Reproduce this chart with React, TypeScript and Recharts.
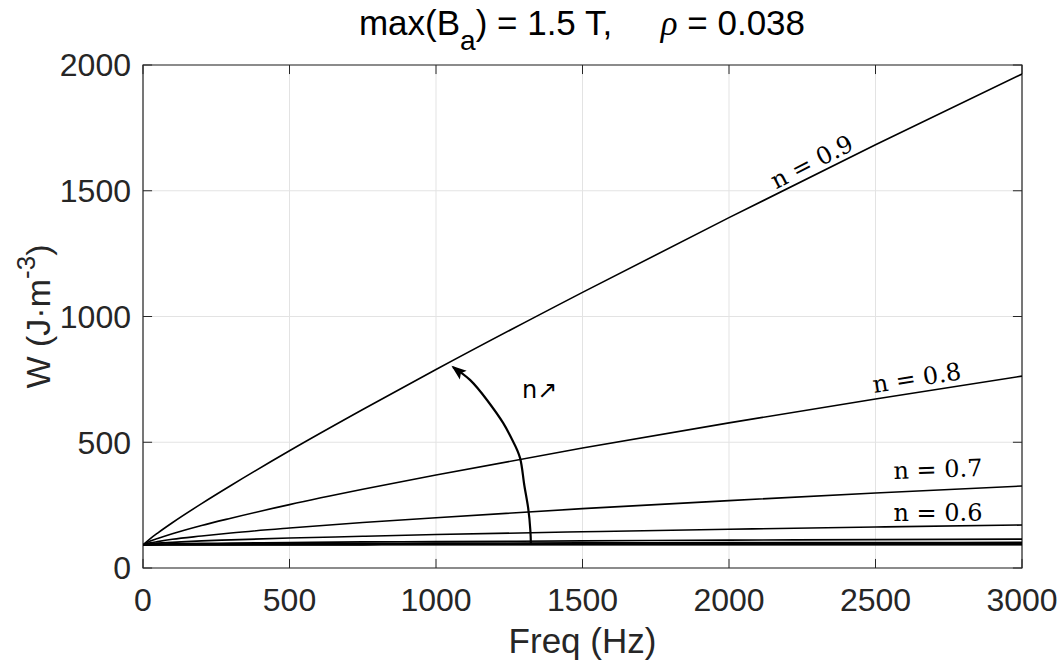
import { LineChart, Line, XAxis, YAxis, CartesianGrid, ReferenceArea, ReferenceLine, ReferenceDot } from 'recharts'

// frequency samples (Hz)
const freq = [0, 25, 50, 100, 200, 300, 500, 750, 1000, 1500, 2000, 2500, 3000]

// W (J/m^3) per exponent n
const n09 = [92, 117, 139, 180, 256, 328, 466, 630, 789, 1096, 1393, 1683, 1964]
const n08 = [92, 107, 117, 136, 169, 198, 252, 313, 370, 477, 577, 672, 763]
const n07 = [92, 100, 105, 114, 127, 139, 159, 181, 200, 236, 268, 298, 326]
const n06 = [92, 97, 99, 102, 108, 112, 119, 126, 133, 144, 154, 163, 171]
const n05 = [92, 94, 95, 96, 98, 99, 101, 104, 105, 108, 111, 113, 115]
const n04 = [92, 94, 94, 95, 95, 96, 97, 98, 99, 100, 101, 101, 102]
const n03 = [92, 93, 93, 94, 94, 94, 95, 95, 95, 96, 96, 97, 97]
const n02 = [92, 92, 93, 93, 93, 93, 93, 93, 94, 94, 94, 94, 94]
const n01 = [92, 92, 92, 92, 92, 92, 92, 92, 93, 93, 93, 93, 93]

const seriesKeys = ['n01', 'n02', 'n03', 'n04', 'n05', 'n06', 'n07', 'n08', 'n09']
const seriesVals = [n01, n02, n03, n04, n05, n06, n07, n08, n09]

// curved "n increases" arrow
const arcF = [1324, 1322, 1314, 1300, 1287, 1260, 1229, 1174, 1116, 1058]
const arcW = [92, 150, 243, 340, 437, 510, 577, 668, 748, 799]

const xTicks = [0, 500, 1000, 1500, 2000, 2500, 3000]
const yTicks = [0, 500, 1000, 1500, 2000]

// curve labels: text, position (data units), rotation
const curveLabels = [
  { text: 'n = 0.9', f: 2283, w: 1614, rot: -27 },
  { text: 'n = 0.8', f: 2641, w: 755, rot: -9 },
  { text: 'n = 0.7', f: 2713, w: 392, rot: -2 },
  { text: 'n = 0.6', f: 2713, w: 219, rot: 0 },
]

const data = freq.map((f, i) => {
  const row: Record<string, number> = { f }
  seriesKeys.forEach((k, j) => { row[k] = seriesVals[j][i] })
  return row
})
const arcData = arcF.map((f, i) => ({ f, w: arcW[i] }))

const axisColor = '#262626'
const sans = '"Liberation Sans", Arial, Helvetica, sans-serif'
const tickStyle = { fill: axisColor, fontSize: 32, fontFamily: sans }

function ArrowHead(props: any) {
  const { cx, cy, index } = props
  if (index !== arcData.length - 1) return <g key={index} />
  return (
    <g key={index} transform={`translate(${cx},${cy}) rotate(-142)`}>
      <path d="M2,0 L-13,-5.5 L-10,0 L-13,5.5 Z" fill="#000" />
    </g>
  )
}

function YLabel(props: any) {
  const { viewBox } = props
  const cx = 38
  const cy = viewBox.y + viewBox.height / 2
  return (
    <text x={cx} y={cy} transform={`rotate(-90, ${cx}, ${cy})`} textAnchor="middle" dominantBaseline="central"
      fill={axisColor} fontSize={34} fontFamily={sans}>
      W (J·m<tspan dy={-12} fontSize={26}>-3</tspan><tspan dy={12}>)</tspan>
    </text>
  )
}

function XLabel(props: any) {
  const { viewBox } = props
  const cx = viewBox.x + viewBox.width / 2
  return (
    <text x={cx} y={640} textAnchor="middle" dominantBaseline="central" fill={axisColor} fontSize={35} fontFamily={sans}>
      Freq (Hz)
    </text>
  )
}

export default function App() {
  return (
    <div style={{ position: 'absolute', left: 0, top: 0, width: 1064, height: 668, background: '#fff' }}>
      <div style={{ position: 'absolute', left: 0, top: 3, width: 1164, textAlign: 'center', fontFamily: sans, fontSize: 35, color: '#000', lineHeight: '40px', whiteSpace: 'pre' }}>
        max(B<sub style={{ fontSize: 28, verticalAlign: '-15px', lineHeight: 0 }}>a</sub>) = 1.5 T,     <i style={{ fontFamily: '"Liberation Serif", serif' }}>ρ</i> = 0.038
      </div>
      <LineChart width={1064} height={668} data={data} margin={{ top: 65, right: 42, bottom: 40, left: 42 }}>
        <CartesianGrid stroke="#e3e3e3" strokeWidth={1} horizontalValues={yTicks} verticalValues={xTicks} />
        <XAxis dataKey="f" type="number" domain={[0, 3000]} ticks={xTicks} allowDataOverflow
          tick={tickStyle} tickLine={false} axisLine={false} tickSize={8} tickMargin={12} height={60}
          label={<XLabel />} />
        <YAxis type="number" domain={[0, 2000]} ticks={yTicks} allowDataOverflow
          tick={tickStyle} tickLine={false} axisLine={false} tickSize={6} tickMargin={6} width={101}
          label={<YLabel />} />
        {xTicks.map((t) => (
          <ReferenceLine key={`xb${t}`} segment={[{ x: t, y: 0 }, { x: t, y: 36 }]} stroke={axisColor} strokeWidth={1} />
        ))}
        {xTicks.map((t) => (
          <ReferenceLine key={`xt${t}`} segment={[{ x: t, y: 2000 }, { x: t, y: 1964 }]} stroke={axisColor} strokeWidth={1} />
        ))}
        {yTicks.map((t) => (
          <ReferenceLine key={`yl${t}`} segment={[{ x: 0, y: t }, { x: 31, y: t }]} stroke={axisColor} strokeWidth={1} />
        ))}
        {yTicks.map((t) => (
          <ReferenceLine key={`yr${t}`} segment={[{ x: 3000, y: t }, { x: 2969, y: t }]} stroke={axisColor} strokeWidth={1} />
        ))}
        {seriesKeys.map((k) => (
          <Line key={k} dataKey={k} type="monotone" stroke="#000" strokeWidth={1.6} dot={false} isAnimationActive={false} />
        ))}
        <Line data={arcData} dataKey="w" type="natural" stroke="#000" strokeWidth={2.2} dot={<ArrowHead />} activeDot={false} isAnimationActive={false} />
        {curveLabels.map((l) => (
          <ReferenceDot key={l.text} x={l.f} y={l.w} r={1} fill="none" stroke="none"
            label={(p: any) => {
              const cx = p.viewBox.x + p.viewBox.width / 2
              const cy = p.viewBox.y + p.viewBox.height / 2
              return (
                <text x={cx} y={cy} transform={`rotate(${l.rot}, ${cx}, ${cy})`} textAnchor="middle" dominantBaseline="central"
                  fontSize={24} fontFamily='"DejaVu Serif", serif' fill="#000">{l.text}</text>
              )
            }} />
        ))}
        <ReferenceDot x={1354} y={708} r={1} fill="none" stroke="none"
          label={(p: any) => {
            const cx = p.viewBox.x + p.viewBox.width / 2
            const cy = p.viewBox.y + p.viewBox.height / 2
            return (
              <text x={cx} y={cy} textAnchor="middle" dominantBaseline="central" fontSize={24} fontFamily='"DejaVu Sans", sans-serif' fill="#000">n↗</text>
            )
          }} />
        <ReferenceArea x1={0} x2={3000} y1={0} y2={2000} fill="none" stroke={axisColor} strokeWidth={1.2} ifOverflow="visible" />
      </LineChart>
    </div>
  )
}
